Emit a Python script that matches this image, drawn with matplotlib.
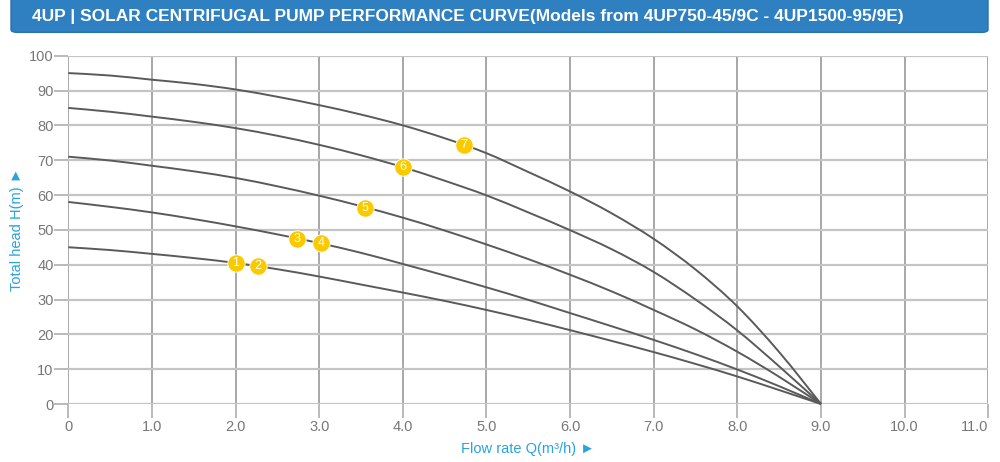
import matplotlib
matplotlib.use("Agg")
from matplotlib import pyplot as plt
from matplotlib.patches import FancyBboxPatch, PathPatch
from matplotlib.path import Path

plt.rcParams['font.family'] = ['Liberation Sans', 'DejaVu Sans']

# flow rate (m3/h) where the curves were read
flow = [0, 0.5, 1, 1.5, 2, 2.5, 3, 3.5, 4, 4.5, 5, 5.5, 6, 6.5, 7, 7.5, 8, 8.5, 9]

# head (m) of each model curve, top to bottom
head_95 = [95, 94.3, 93.1, 91.9, 90.3, 88.2, 85.8, 83.1, 80, 76.3, 72, 66.6, 61.0, 54.7, 47.4, 38.6, 28.0, 14.9, 0]
head_85 = [85, 83.9, 82.5, 81, 79.2, 77, 74.4, 71.4, 68, 64.1, 59.9, 55, 49.9, 44.4, 37.9, 30.0, 21.1, 10.8, 0]
head_71 = [71, 69.9, 68.4, 66.8, 64.9, 62.5, 59.8, 56.8, 53.5, 49.8, 45.8, 41.6, 37.1, 32.3, 27.0, 21.4, 15.0, 7.8, 0]
head_58 = [58, 56.6, 55, 53.1, 51, 48.7, 46.2, 43.4, 40.2, 36.9, 33.5, 29.9, 26.1, 22.3, 18.4, 14.3, 9.9, 5.1, 0]
head_45 = [45, 44.2, 43.1, 41.9, 40.5, 38.7, 36.6, 34.3, 32, 29.6, 27.0, 24.2, 21.2, 18.1, 14.9, 11.5, 7.9, 4.0, 0]
curves = [head_95, head_85, head_71, head_58, head_45]

# numbered model markers
mark_labels = ["1", "2", "3", "4", "5", "6", "7"]
mark_q = [2.0, 2.27, 2.73, 3.02, 3.55, 4.0, 4.73]
mark_h = [40.4, 39.5, 47.4, 46.2, 56.3, 67.9, 74.4]

x_ticks = [0, 1, 2, 3, 4, 5, 6, 7, 8, 9, 10, 11]
x_tick_labels = ["0", "1.0", "2.0", "3.0", "4.0", "5.0", "6.0", "7.0", "8.0", "9.0", "10.0", "11.0"]
y_ticks = list(range(0, 101, 10))

title = "4UP | SOLAR CENTRIFUGAL PUMP PERFORMANCE CURVE(Models from 4UP750-45/9C - 4UP1500-95/9E)"

blue = "#29a3dd"
grid_col = "#b4b4b4"


def smooth_path(xs, ys):
    # catmull-rom through the read points, drawn as cubic bezier segments
    pts = list(zip(xs, ys))
    verts = [pts[0]]
    codes = [Path.MOVETO]
    n = len(pts)
    for i in range(n - 1):
        p0 = pts[i - 1] if i > 0 else pts[i]
        p1 = pts[i]
        p2 = pts[i + 1]
        p3 = pts[i + 2] if i + 2 < n else pts[i + 1]
        c1 = (p1[0] + (p2[0] - p0[0]) / 6, p1[1] + (p2[1] - p0[1]) / 6)
        c2 = (p2[0] - (p3[0] - p1[0]) / 6, p2[1] - (p3[1] - p1[1]) / 6)
        verts += [c1, c2, p2]
        codes += [Path.CURVE4] * 3
    return Path(verts, codes)


fig = plt.figure(figsize=(10, 4.62), dpi=100)

# title bar
bar = FancyBboxPatch((0.011, 0.93), 0.977, 0.09, boxstyle="round,pad=0,rounding_size=0.006",
                     transform=fig.transFigure, facecolor="#2e80c1", edgecolor="#2872ad", lw=1)
fig.patches.append(bar)
fig.text(0.032, 0.965, title, color="white", fontsize=12.5, fontweight="bold",
         va="center", ha="left")

ax = fig.add_axes([0.0683, 0.1255, 0.92, 0.754])
ax.set_xlim(0, 11)
ax.set_ylim(0, 100)
for s in ax.spines.values():
    s.set_visible(False)

ax.set_xticks(x_ticks)
ax.set_xticklabels(x_tick_labels)
ax.get_xticklabels()[-1].set_horizontalalignment("right")
ax.set_yticks(y_ticks)
ax.grid(axis="y", color="#c4c4c4", lw=1.6, zorder=0)
ax.grid(axis="x", color="#a0a0a0", lw=1.3, zorder=0)
ax.tick_params(axis="both", colors=grid_col, labelcolor="#777777", labelsize=10.5, length=10, width=1.3)
ax.tick_params(axis="x", pad=1.5)
ax.tick_params(axis="y", pad=0.5)

for h in curves:
    ax.add_patch(PathPatch(smooth_path(flow, h), fill=False, edgecolor="#5a5a5a", lw=1.4,
                           zorder=3, clip_on=False))

for lab, q, h in zip(mark_labels, mark_q, mark_h):
    ax.plot(q, h, "o", ms=12.5, color="#fbc900", mec="white", mew=0.6, zorder=4)
    ax.text(q, h, lab, color="white", fontsize=9, ha="center", va="center", zorder=5)

ax.set_xlabel("Flow rate Q(m\u00b3/h) \u25ba", color=blue, fontsize=10.5, labelpad=6)
ax.set_ylabel("Total head H(m) \u25ba", color=blue, fontsize=10.5, labelpad=4)

fig.savefig("out.png", dpi=100, facecolor="white")
